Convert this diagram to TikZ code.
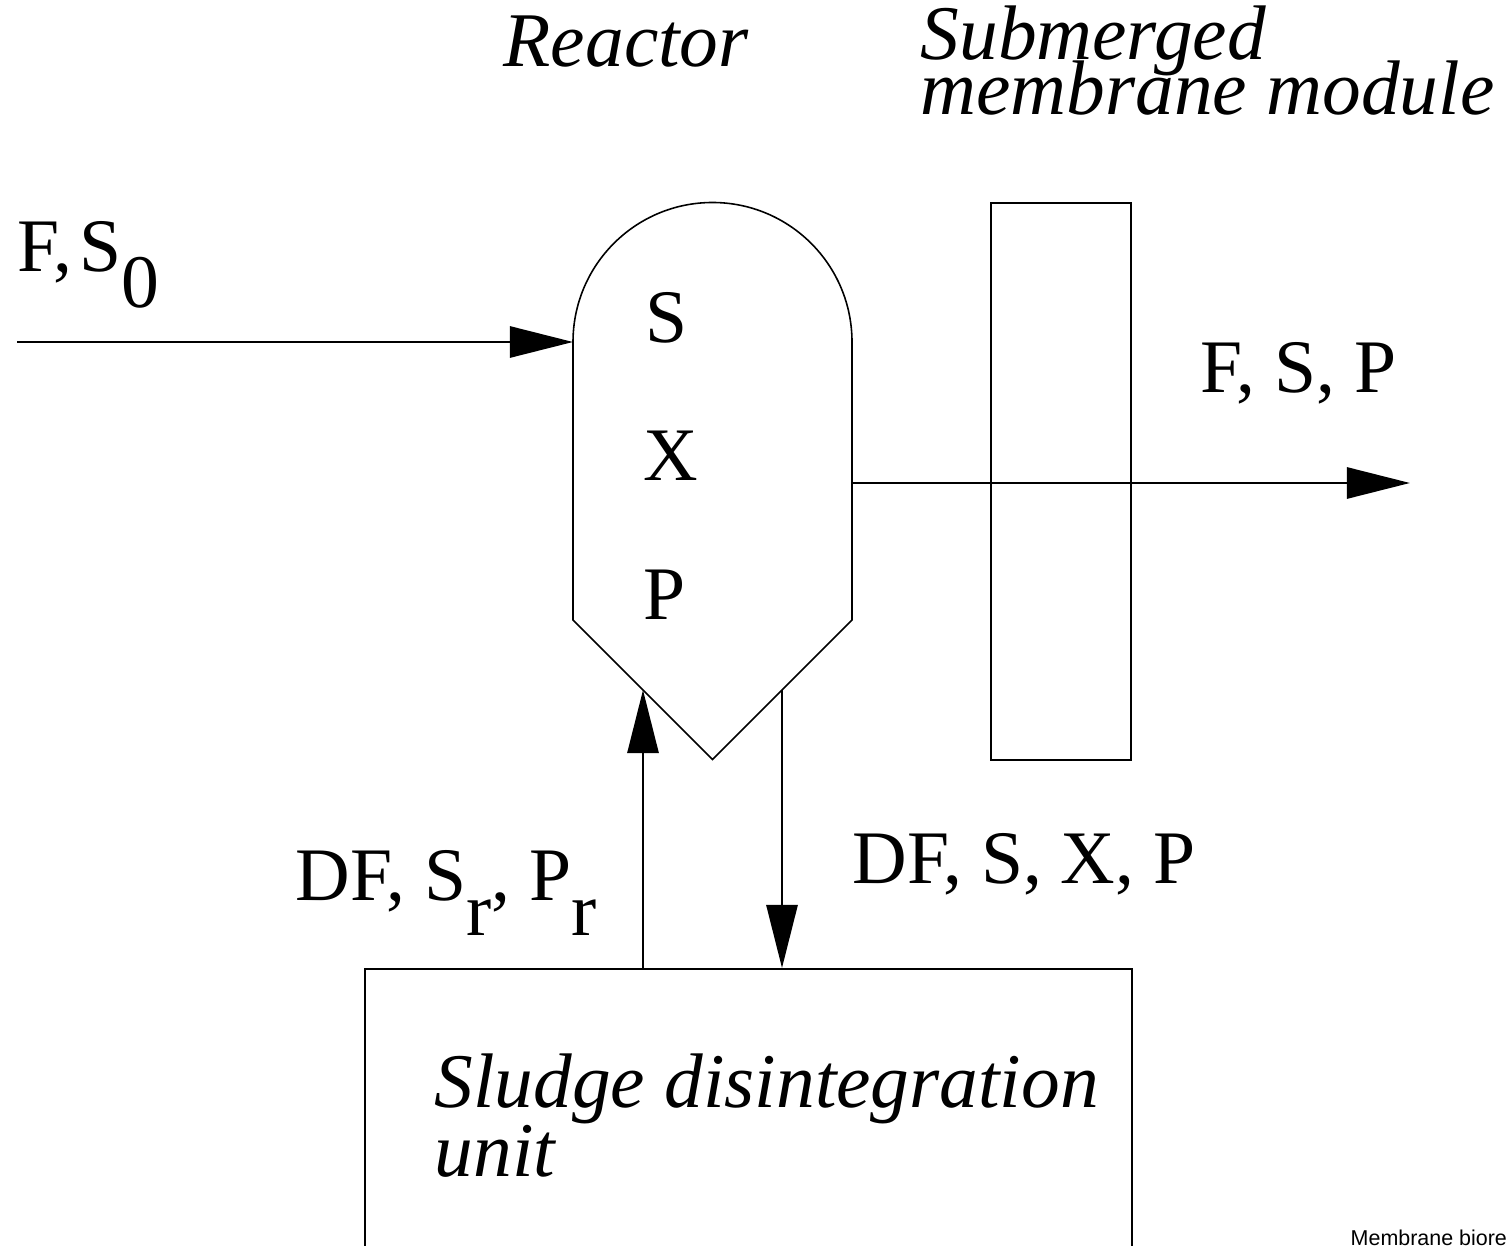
\documentclass[tikz,border=0pt]{standalone}
\usepackage{fontspec}
\setmainfont{Liberation Serif}
\setsansfont{Liberation Sans}
\usepackage{tikz}
\usetikzlibrary{arrows.meta, positioning}

\begin{document}
\begin{tikzpicture}[
    x=0.01cm,
    y=-0.01cm,
    every node/.style={
        font=\fontsize{21.5}{24}\selectfont,
        inner sep=0pt
    },
    vessel/.style={
        draw,
        line width=0.45pt
    },
    flow/.style={
        -{Triangle[length=6.3mm, width=3.1mm]},
        line width=0.8pt
    },
    tag/.style={
        anchor=base west
    },
    title/.style={
        anchor=base west,
        font=\fontsize{22}{24}\selectfont\itshape
    },
    caption/.style={
        anchor=base west,
        font=\fontsize{6.1}{7}\selectfont\sffamily
    }
]

\useasboundingbox (0,0) rectangle (1506,1246);

\draw[vessel] (573,620) -- (573,342)
    arc[start angle=180, end angle=360, radius=139.5]
    -- (852,620) -- (712.5,759.5) -- cycle;

\node[vessel, minimum width=1.4cm, minimum height=5.57cm] (membrane) at (1061,481.5) {};

\node[vessel, anchor=north west, minimum width=7.67cm, minimum height=4cm] (sludge) at (364,968) {};

\coordinate (feed) at (17,342);
\coordinate (inlet) at (573,342);
\coordinate (outlet) at (852,483);
\coordinate (product) at (1410,483);
\coordinate (recycle) at (643,690);
\coordinate (drain) at (782,690);

\node[title] (reactor) at (503,67) {Reactor};
\node[title] (submerged) at (920,60) {Submerged};
\node[title] (module) at (920,115) {membrane module};

\node[tag] (feedlabel) at (17,272) {F,\kern2pt S\raisebox{-10pt}{0}};
\node[tag] (s) at (645,343) {S};
\node[tag] (x) at (643,481) {X};
\node[tag] (p) at (643,619) {P};
\node[tag] (productlabel) at (1200,393) {F, S, P};
\node[tag] (returnlabel) at (295,900) {DF, S\raisebox{-10pt}{r}, P\raisebox{-10pt}{r}};
\node[tag] (drainlabel) at (852,883) {DF, S, X, P};

\node[title] (unit1) at (434,1107) {Sludge disintegration};
\node[title] (unit2) at (434,1176) {unit};

\node[caption] (note) at (1350,1245) {Membrane bioreactor};

\draw[flow] (feed) -- (inlet);
\draw[flow] (outlet) -- (product);
\draw[flow] (sludge.north -| recycle) -- (recycle);
\draw[flow] (drain) -- (sludge.north -| drain);

\end{tikzpicture}
\end{document}
